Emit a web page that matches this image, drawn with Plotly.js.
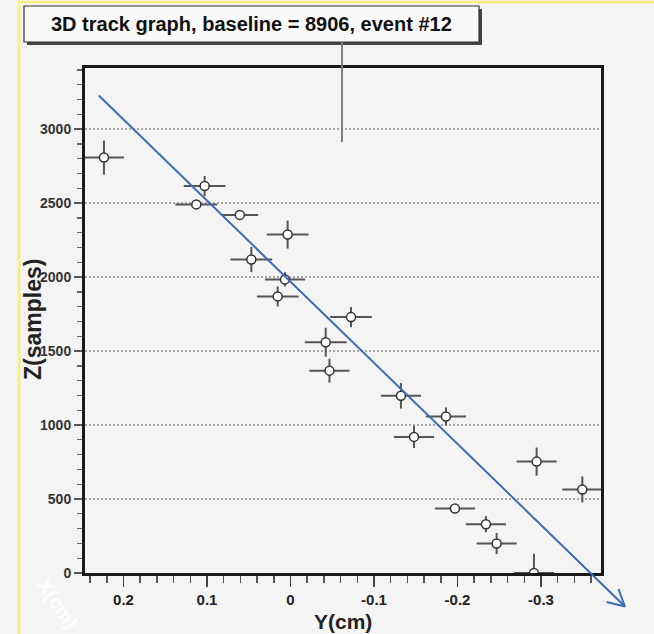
<!DOCTYPE html>
<html>
<head>
<meta charset="utf-8">
<script src="https://cdn.plot.ly/plotly-3.0.1.min.js"></script>
<style>
  html, body { margin: 0; padding: 0; background: #f4f4f4; }
  #chart { width: 654px; height: 634px; }
</style>
</head>
<body>
<div id="chart"></div>
<script>
// ---- data ----
const yCm      = [0.2234, 0.1028, 0.1128, 0.0607, 0.0034, 0.0469, 0.0066, 0.0153, -0.0725, -0.0422, -0.0467, -0.1323, -0.1862, -0.1479, -0.2948, -0.3495, -0.1970, -0.2341, -0.2469, -0.2916];
const zSamples = [2809, 2616, 2492, 2421, 2288, 2119, 1985, 1870, 1730, 1560, 1368, 1198, 1058, 920, 753, 565, 436, 330, 199, 0];
const yErr     = [0.024, 0.025, 0.025, 0.022, 0.025, 0.025, 0.024, 0.025, 0.025, 0.025, 0.024, 0.024, 0.024, 0.024, 0.024, 0.024, 0.024, 0.024, 0.024, 0.024];
const zErr     = [115, 68, 30, 30, 95, 85, 48, 68, 68, 98, 81, 86, 61, 75, 95, 88, 25, 54, 71, 130];

const fitY = [0.2314, -0.4006];
const fitZ = [3238, -227];

const xTickVals = [0.2, 0.1, 0, -0.1, -0.2, -0.3];
const xTickText = ['0.2', '0.1', '0', '-0.1', '-0.2', '-0.3'];
const zTickVals = [0, 500, 1000, 1500, 2000, 2500, 3000];
const zTickText = ['0', '500', '1000', '1500', '2000', '2500', '3000'];

const titleText = '3D track graph, baseline = 8906, event #12';
const xTitle = 'Y(cm)';
const yTitle = 'Z(samples)';

// ---- layout geometry ----
const L = 85, T = 68, W = 516, H = 505;
const xRange = [0.2461, -0.3719];
const zRange = [0, 3414];
function pxX(p) { return (p - L) / W; }
function pxY(p) { return (T + H - p) / H; }
function dX(v) { return (v - xRange[0]) / (xRange[1] - xRange[0]); }
function dY(v) { return (v - zRange[0]) / (zRange[1] - zRange[0]); }

const FONT = 'Liberation Sans, Arial, sans-serif';
const blue = '#3a6db5';

const trace = {
  type: 'scatter',
  mode: 'markers',
  x: yCm,
  y: zSamples,
  error_x: { type: 'data', array: yErr, visible: true, color: '#555', thickness: 2, width: 0 },
  error_y: { type: 'data', array: zErr, visible: true, color: '#555', thickness: 2, width: 0 },
  marker: { symbol: 'circle', size: 9, color: '#ffffff', line: { color: '#333', width: 1.5 } },
  hoverinfo: 'skip'
};

const annotations = [
  // title text
  { xref: 'paper', yref: 'paper', x: pxX(251.5), y: pxY(24), xanchor: 'center', yanchor: 'middle',
    text: titleText, showarrow: false,
    font: { family: FONT, size: 20, weight: 700, color: '#111' } },
  // axis titles
  { xref: 'paper', yref: 'paper', x: pxX(343), y: pxY(621), xanchor: 'center', yanchor: 'middle',
    text: xTitle, showarrow: false,
    font: { family: FONT, size: 21, weight: 700, color: '#222' } },
  { xref: 'paper', yref: 'paper', x: pxX(33), y: pxY(320), xanchor: 'center', yanchor: 'middle',
    text: yTitle, showarrow: false, textangle: -90,
    font: { family: FONT, size: 23, weight: 700, color: '#222' } },
  // fitted line (arrow shaft)
  { xref: 'paper', yref: 'paper', axref: 'paper', ayref: 'paper',
    x: dX(fitY[1]), y: dY(fitZ[1]), ax: dX(fitY[0]), ay: dY(fitZ[0]),
    text: '', font: { size: 1 }, showarrow: true, arrowhead: 0, arrowwidth: 2, arrowcolor: blue },
  // arrow head arms
  { xref: 'paper', yref: 'paper', x: dX(fitY[1]), y: dY(fitZ[1]), ax: -20, ay: -5,
    text: '', font: { size: 1 }, showarrow: true, arrowhead: 0, arrowwidth: 2, arrowcolor: blue },
  { xref: 'paper', yref: 'paper', x: dX(fitY[1]), y: dY(fitZ[1]), ax: -7, ay: -19,
    text: '', font: { size: 1 }, showarrow: true, arrowhead: 0, arrowwidth: 2, arrowcolor: blue },
  // faint watermark
  { xref: 'paper', yref: 'paper', x: pxX(58), y: pxY(604), xanchor: 'center', yanchor: 'middle',
    text: 'X(cm)', showarrow: false, textangle: 55,
    font: { family: FONT, size: 20, weight: 700, color: 'rgba(255,255,255,0.9)' } }
];

const shapes = [
  // yellow frame edges
  { type: 'line', xref: 'paper', yref: 'paper', x0: pxX(19), x1: pxX(19), y0: pxY(0), y1: pxY(634),
    line: { color: '#f6f07c', width: 2.5 }, layer: 'above' },
  { type: 'line', xref: 'paper', yref: 'paper', x0: pxX(19), x1: pxX(654), y0: pxY(2), y1: pxY(2),
    line: { color: '#f6f07c', width: 2.5 }, layer: 'above' },
  // title box shadow + box
  { type: 'rect', xref: 'paper', yref: 'paper', x0: pxX(27), x1: pxX(482), y0: pxY(9), y1: pxY(45),
    fillcolor: '#444', line: { width: 0 }, layer: 'above' },
  { type: 'rect', xref: 'paper', yref: 'paper', x0: pxX(24), x1: pxX(479), y0: pxY(6), y1: pxY(42),
    fillcolor: '#f9f9f9', line: { color: '#333', width: 1.2 }, layer: 'above' },
  // vertical pointer line below the title box
  { type: 'line', xref: 'paper', yref: 'paper', x0: pxX(342), x1: pxX(342), y0: pxY(42), y1: pxY(142),
    line: { color: '#808080', width: 2 }, layer: 'above' }
];

const layout = {
  width: 654,
  height: 634,
  margin: { l: L, r: 654 - L - W, t: T, b: 634 - T - H, pad: 0 },
  paper_bgcolor: '#f4f4f4',
  plot_bgcolor: '#f4f4f4',
  showlegend: false,
  font: { family: FONT, color: '#222' },
  xaxis: {
    range: xRange,
    tickmode: 'array', tickvals: xTickVals, ticktext: xTickText,
    ticks: 'outside', ticklen: 11, tickwidth: 1.5, tickcolor: '#444',
    minor: { dtick: 0.02, tick0: 0, ticks: 'outside', ticklen: 7, tickwidth: 1.5, tickcolor: '#555', showgrid: false },
    tickfont: { family: FONT, size: 15, weight: 700, color: '#222' },
    showgrid: false, zeroline: false,
    showline: true, linecolor: '#1a1a1a', linewidth: 3, mirror: true,
    automargin: false
  },
  yaxis: {
    range: zRange,
    tickmode: 'array', tickvals: zTickVals, ticktext: zTickText,
    ticks: 'outside', ticklen: 8, tickwidth: 1.5, tickcolor: '#555',
    minor: { dtick: 100, tick0: 0, ticks: 'outside', ticklen: 5, tickwidth: 1.2, tickcolor: '#666', showgrid: false },
    tickfont: { family: FONT, size: 14, weight: 700, color: '#333' },
    showgrid: true, gridcolor: '#a8a8a8', gridwidth: 1.5, griddash: '2px,2px',
    zeroline: false,
    showline: true, linecolor: '#1a1a1a', linewidth: 3, mirror: true,
    automargin: false
  },
  annotations: annotations,
  shapes: shapes
};

Plotly.newPlot('chart', [trace], layout, { displayModeBar: false, staticPlot: true });
</script>
</body>
</html>
